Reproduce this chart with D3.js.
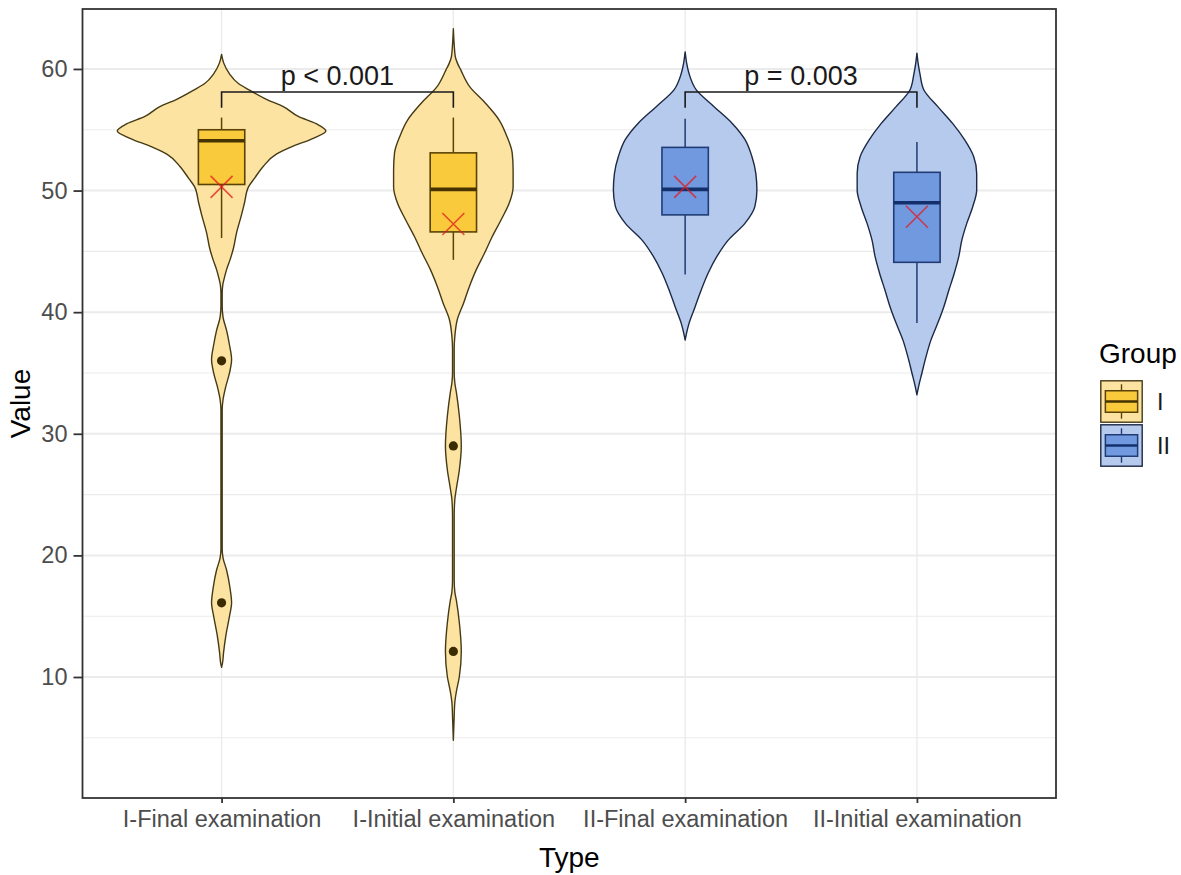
<!DOCTYPE html>
<html>
<head>
<meta charset="utf-8">
<script src="https://cdn.jsdelivr.net/npm/d3@7"></script>
<style>
  body { margin: 0; background: #fff; }
  text { font-family: "Liberation Sans", Arial, sans-serif; }
</style>
</head>
<body>
<svg id="chart" width="1181" height="875"></svg>
<script>
// 数据：数值
const categories = ["I-Final examination", "I-Initial examination", "II-Final examination", "II-Initial examination"];
const groups = ["I", "I", "II", "II"];

// 箱线图统计量
const whiskerLow = [46.1, 44.3, 43.1, 39.1];
const boxQ1 = [50.5, 46.6, 48.0, 44.1];
const boxMedian = [54.1, 50.1, 50.1, 49.0];
const boxQ3 = [55.0, 53.1, 53.55, 51.5];
const whiskerHigh = [56.0, 56.0, 55.9, 54.0];
const means = [50.3, 47.25, 50.3, 47.85];
const outliers = [[36.0, 16.1], [29.0, 12.1], [], []];

// 小提琴密度轮廓 [数值, 相对宽度]
const violinIFinal = [[61.2,0],[60.5,.02],[59.6,.076],[58.8,.162],[58.3,.258],[57.5,.43],[56.9,.592],[56.1,.735],[55.5,.907],[54.9,1.0],[54.3,.879],[53.6,.669],[53.0,.525],[52.0,.401],[51.0,.315],[50.3,.258],[49.0,.22],[48.0,.191],[46.5,.143],[45.3,.115],[44.3,.081],[43.5,.048],[42.9,.029],[42.2,.011],[41.5,.006],[40.5,.006],[39.6,.014],[38.5,.048],[37.3,.076],[36.1,.096],[35.0,.076],[33.8,.038],[32.8,.014],[32.0,.006],[20.5,.006],[19.8,.014],[18.8,.048],[17.3,.081],[16.1,.096],[15.0,.076],[13.5,.043],[12.0,.019],[11.1,.008],[10.8,0]];
const violinIInitial = [[63.3,0],[62.0,.008],[61.0,.019],[60.5,.038],[59.9,.072],[58.5,.16],[57.2,.306],[55.8,.439],[54.4,.516],[53.1,.564],[51.7,.573],[50.3,.573],[48.95,.535],[47.6,.458],[46.2,.372],[44.8,.296],[43.5,.22],[42.1,.153],[40.7,.096],[39.4,.038],[38.0,.014],[37.0,.008],[35.0,.008],[34.2,.014],[33.4,.029],[31.5,.057],[29.0,.076],[27.0,.057],[25.5,.029],[24.6,.014],[23.2,.008],[18.0,.008],[17.0,.014],[16.3,.029],[14.5,.057],[12.1,.076],[10.0,.057],[8.8,.029],[7.9,.014],[6.5,.007],[4.8,0]];
const violinIIFinal = [[61.4,0],[60.5,.014],[59.6,.038],[58.3,.105],[56.9,.277],[55.5,.454],[54.2,.573],[52.8,.64],[51.4,.678],[50.05,.688],[48.7,.669],[47.3,.573],[45.9,.411],[44.6,.306],[43.2,.22],[41.8,.153],[40.45,.096],[39.1,.038],[38.3,.014],[37.7,0]];
const violinIIInitial = [[61.3,0],[60.5,.011],[59.6,.029],[58.27,.067],[56.9,.2],[55.5,.344],[54.16,.458],[52.8,.544],[51.4,.573],[50.05,.573],[48.67,.535],[47.3,.478],[45.9,.43],[44.56,.401],[43.2,.358],[41.8,.306],[40.45,.258],[39.1,.2],[37.7,.134],[36.3,.086],[35.0,.048],[34.0,.019],[33.2,0]];
const violins = [violinIFinal, violinIInitial, violinIIFinal, violinIIInitial];

// 显著性标注
const pLabels = ["p < 0.001", "p = 0.003"];
const pPairs = [[0, 1], [2, 3]];
const pBracketY = 58.1;
const pTipY = 56.8;

const yMajor = [10, 20, 30, 40, 50, 60];
const yMinor = [5, 15, 25, 35, 45, 55];

// 颜色
const colors = {
  I:  { violin: "#fce3a2", violinStroke: "#453a14", box: "#f8ca3c", boxStroke: "#5a4306", median: "#473300", point: "#3a2c00" },
  II: { violin: "#b6caee", violinStroke: "#1c2945", box: "#7099e0", boxStroke: "#213c74", median: "#13306c", point: "#13306c" }
};

const svg = d3.select("#chart");
const panel = { left: 82.5, right: 1056, top: 9, bottom: 798 };

const x = d3.scalePoint().domain(categories).range([panel.left, panel.right]).padding(0.6);
const y = d3.scaleLinear().domain([0.05, 64.93]).range([panel.bottom, panel.top]);
const w = d3.scaleLinear().domain([0, 1]).range([0, x.step() * 0.45]);
const boxHalf = x.step() * 0.1;

svg.append("rect").attr("width", 1181).attr("height", 875).attr("fill", "#fff");

// 网格线
const grid = svg.append("g");
grid.selectAll(".minor").data(yMinor).enter().append("line")
  .attr("x1", panel.left).attr("x2", panel.right)
  .attr("y1", d => y(d)).attr("y2", d => y(d))
  .attr("stroke", "#ebebeb").attr("stroke-width", 1.1);
grid.selectAll(".major").data(yMajor).enter().append("line")
  .attr("x1", panel.left).attr("x2", panel.right)
  .attr("y1", d => y(d)).attr("y2", d => y(d))
  .attr("stroke", "#ebebeb").attr("stroke-width", 2);
grid.selectAll(".vmajor").data(categories).enter().append("line")
  .attr("x1", d => x(d)).attr("x2", d => x(d))
  .attr("y1", panel.top).attr("y2", panel.bottom)
  .attr("stroke", "#ebebeb").attr("stroke-width", 1.4);

// 小提琴
const g = svg.append("g");
categories.forEach((cat, i) => {
  const c = colors[groups[i]];
  const cx = x(cat);
  const area = d3.area()
    .y(d => y(d[0]))
    .x0(d => cx - w(d[1]))
    .x1(d => cx + w(d[1]))
    .curve(d3.curveMonotoneY);
  g.append("path")
    .attr("d", area(violins[i]))
    .attr("fill", c.violin)
    .attr("stroke", c.violinStroke)
    .attr("stroke-width", 1.4)
    .attr("stroke-linejoin", "round");
});

// 箱线图
categories.forEach((cat, i) => {
  const c = colors[groups[i]];
  const cx = x(cat);
  g.append("line").attr("x1", cx).attr("x2", cx)
    .attr("y1", y(whiskerHigh[i])).attr("y2", y(boxQ3[i]))
    .attr("stroke", c.boxStroke).attr("stroke-width", 1.5);
  g.append("line").attr("x1", cx).attr("x2", cx)
    .attr("y1", y(boxQ1[i])).attr("y2", y(whiskerLow[i]))
    .attr("stroke", c.boxStroke).attr("stroke-width", 1.5);
  g.append("rect")
    .attr("x", cx - boxHalf).attr("width", boxHalf * 2)
    .attr("y", y(boxQ3[i])).attr("height", y(boxQ1[i]) - y(boxQ3[i]))
    .attr("fill", c.box).attr("stroke", c.boxStroke).attr("stroke-width", 1.6);
  g.append("line")
    .attr("x1", cx - boxHalf).attr("x2", cx + boxHalf)
    .attr("y1", y(boxMedian[i])).attr("y2", y(boxMedian[i]))
    .attr("stroke", c.median).attr("stroke-width", 3.6);
  // 离群点
  g.selectAll(null).data(outliers[i]).enter().append("circle")
    .attr("cx", cx).attr("cy", d => y(d)).attr("r", 4.6)
    .attr("fill", c.point);
  // 均值 ×
  const my = y(means[i]), s = 11;
  g.append("path")
    .attr("d", `M${cx - s},${my - s}L${cx + s},${my + s}M${cx - s},${my + s}L${cx + s},${my - s}`)
    .attr("stroke", "#e41a1c").attr("stroke-opacity", 0.75).attr("stroke-width", 1.6);
});

// 显著性括号
pPairs.forEach((pair, k) => {
  const x1 = x(categories[pair[0]]), x2 = x(categories[pair[1]]);
  g.append("path")
    .attr("d", `M${x1},${y(pTipY)}V${y(pBracketY)}H${x2}V${y(pTipY)}`)
    .attr("fill", "none").attr("stroke", "#1a1a1a").attr("stroke-width", 1.6);
  g.append("text")
    .attr("x", (x1 + x2) / 2).attr("y", y(pBracketY) - 7)
    .attr("text-anchor", "middle").attr("font-size", 27).attr("fill", "#1a1a1a")
    .text(pLabels[k]);
});

// 面板边框
svg.append("rect")
  .attr("x", panel.left).attr("y", panel.top)
  .attr("width", panel.right - panel.left).attr("height", panel.bottom - panel.top)
  .attr("fill", "none").attr("stroke", "#333").attr("stroke-width", 1.8);

// 坐标轴
const yAxis = svg.append("g").attr("transform", `translate(${panel.left},0)`)
  .call(d3.axisLeft(y).tickValues(yMajor).tickSize(9).tickPadding(6));
const xAxis = svg.append("g").attr("transform", `translate(0,${panel.bottom})`)
  .call(d3.axisBottom(x).tickSize(5).tickPadding(7));
[yAxis, xAxis].forEach(a => {
  a.select(".domain").remove();
  a.selectAll(".tick line").attr("stroke", "#333").attr("stroke-width", 1.8);
  a.selectAll(".tick text").attr("fill", "#4d4d4d").attr("font-size", 23.5)
    .attr("font-family", '"Liberation Sans", Arial, sans-serif');
});

// 坐标轴标题
svg.append("text").attr("x", (panel.left + panel.right) / 2).attr("y", 867)
  .attr("text-anchor", "middle").attr("font-size", 28).text("Type");
svg.append("text").attr("transform", `translate(30,${(panel.top + panel.bottom) / 2}) rotate(-90)`)
  .attr("text-anchor", "middle").attr("font-size", 28).text("Value");

// 图例
const legend = svg.append("g").attr("transform", "translate(1100,0)");
legend.append("text").attr("x", -1).attr("y", 363).attr("font-size", 28).text("Group");
const keySize = 43;
["I", "II"].forEach((grp, k) => {
  const c = colors[grp];
  const ky = 380 + k * (keySize + 1);
  const kg = legend.append("g").attr("transform", `translate(0,${ky})`);
  kg.append("rect").attr("x", 0.8).attr("y", 0.8).attr("width", keySize - 1.6).attr("height", keySize - 1.6)
    .attr("fill", c.violin).attr("stroke", c.violinStroke).attr("stroke-width", 1.4);
  const cx = keySize / 2;
  kg.append("line").attr("x1", cx).attr("x2", cx).attr("y1", keySize * 0.1).attr("y2", keySize * 0.25)
    .attr("stroke", c.boxStroke).attr("stroke-width", 1.4);
  kg.append("line").attr("x1", cx).attr("x2", cx).attr("y1", keySize * 0.75).attr("y2", keySize * 0.9)
    .attr("stroke", c.boxStroke).attr("stroke-width", 1.4);
  kg.append("rect").attr("x", keySize * 0.125).attr("y", keySize * 0.25)
    .attr("width", keySize * 0.75).attr("height", keySize * 0.5)
    .attr("fill", c.box).attr("stroke", c.boxStroke).attr("stroke-width", 1.5);
  kg.append("line").attr("x1", keySize * 0.125).attr("x2", keySize * 0.875)
    .attr("y1", keySize / 2).attr("y2", keySize / 2)
    .attr("stroke", c.median).attr("stroke-width", 2.6);
  legend.append("text").attr("x", 57).attr("y", ky + keySize / 2).attr("dy", "0.35em")
    .attr("font-size", 23.5).attr("fill", "#1a1a1a").text(grp);
});
</script>
</body>
</html>
